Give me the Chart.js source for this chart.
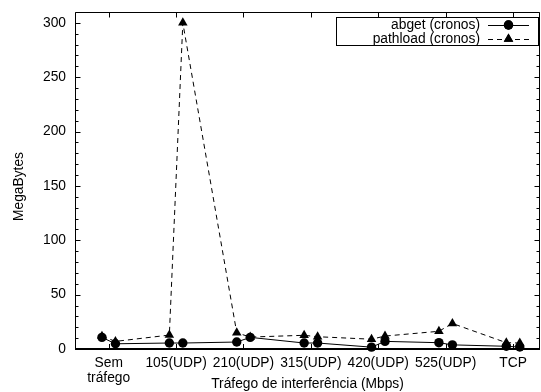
<!DOCTYPE html>
<html><head><meta charset="utf-8">
<script src="https://cdn.jsdelivr.net/npm/chart.js@4/dist/chart.umd.min.js"></script>
<style>html,body{margin:0;padding:0;background:#fff;}canvas{display:block;}</style>
</head><body>
<canvas id="c" width="541" height="392"></canvas>
<script>
// ---- data ----
const categories = [['Sem', 'tráfego'], '105(UDP)', '210(UDP)', '315(UDP)', '420(UDP)', '525(UDP)', 'TCP'];
const pairOffsets = [-0.1, 0.1];
const abget    = [10.7, 4.8, 5.5, 5.5, 6.4, 10.7, 5.5, 5.5, 1.7, 7.0, 5.8, 3.8, 2.5, 1.8];
const pathload = [11.8, 7.0, 12.8, 300, 14.9, 11.0, 12.6, 11.3, 9.0, 11.9, 16.3, 23.5, 5.8, 5.5];
const yTickLabels = [0, 50, 100, 150, 200, 250, 300];
const seriesLabels = ['abget (cronos)', 'pathload (cronos)'];
const xTitle = 'Tráfego de interferência (Mbps)';
const yTitle = 'MegaBytes';

const FONT = "'Liberation Sans', Arial, Helvetica, sans-serif";
const FS = 13.8;
const xs = categories.flatMap((c, i) => pairOffsets.map(o => i + o));
const toPts = arr => arr.map((v, k) => ({x: xs[k], y: v}));
const noPad = s => { s.paddingLeft = 0; s.paddingRight = 0; s.paddingTop = 0; s.paddingBottom = 0; };

const framePlugin = {
  id: 'frame',
  beforeDatasetsDraw(chart) {
    const {ctx, chartArea: a, scales: {x, y}} = chart;
    const L = Math.round(a.left) + 0.5, R = Math.round(a.right) - 0.5;
    const T = Math.round(a.top) + 0.5, B = Math.round(a.bottom);
    ctx.save();
    ctx.strokeStyle = '#000';
    ctx.lineWidth = 1;
    ctx.beginPath();
    ctx.moveTo(L, B); ctx.lineTo(L, T); ctx.lineTo(R, T); ctx.lineTo(R, B);
    ctx.stroke();
    ctx.lineWidth = 2;
    ctx.beginPath(); ctx.moveTo(L - 0.5, B); ctx.lineTo(R + 0.5, B); ctx.stroke();
    ctx.lineWidth = 1;
    ctx.beginPath();
    for (let v = 0; v <= y.max; v += 10) {
      const py = Math.round(y.getPixelForValue(v)) + 0.5;
      const len = v % 50 === 0 ? 5 : 3;
      ctx.moveTo(L, py); ctx.lineTo(L + len, py);
      ctx.moveTo(R, py); ctx.lineTo(R - len, py);
    }
    categories.forEach((c, i) => {
      const px = Math.round(x.getPixelForValue(i)) + 0.5;
      ctx.moveTo(px, B); ctx.lineTo(px, B - 5);
      ctx.moveTo(px, T); ctx.lineTo(px, T + 5);
    });
    ctx.stroke();
    // y title
    ctx.fillStyle = '#000';
    ctx.font = FS + 'px ' + FONT;
    ctx.textAlign = 'center';
    ctx.textBaseline = 'middle';
    ctx.translate(19, (a.top + a.bottom) / 2 + 6);
    ctx.rotate(-Math.PI / 2);
    ctx.fillText(yTitle, 0, 0);
    ctx.restore();
  },
  afterDraw(chart) {
    const {ctx, chartArea: a} = chart;
    const R = Math.round(a.right);
    const boxL = R - 203.5, boxT = Math.round(a.top) + 5.5, boxW = 202, boxH = 28;
    ctx.save();
    ctx.fillStyle = '#fff';
    ctx.fillRect(boxL, boxT, boxW, boxH);
    ctx.strokeStyle = '#000';
    ctx.lineWidth = 1;
    ctx.strokeRect(boxL, boxT, boxW, boxH);
    ctx.font = FS + 'px ' + FONT;
    ctx.textAlign = 'right';
    ctx.textBaseline = 'middle';
    ctx.fillStyle = '#000';
    const textR = R - 60, s0 = R - 52, s1 = R - 11, mx = (s0 + s1) / 2;
    chart.data.datasets.forEach((ds, i) => {
      const ry = boxT + 7.5 + i * 14;
      ctx.fillText(seriesLabels[i], textR, ry);
      ctx.setLineDash(ds.borderDash || []);
      ctx.lineWidth = 1;
      ctx.beginPath(); ctx.moveTo(s0, Math.round(ry) + 0.5); ctx.lineTo(s1, Math.round(ry) + 0.5); ctx.stroke();
      ctx.setLineDash([]);
      Chart.helpers.drawPoint(ctx, {pointStyle: ds.pointStyle, radius: ds.pointRadius, borderWidth: 0, rotation: 0}, mx, ry);
      ctx.fill();
    });
    ctx.restore();
  }
};

new Chart(document.getElementById('c'), {
  type: 'line',
  data: {
    datasets: [
      {
        label: seriesLabels[0], data: toPts(abget),
        borderColor: '#000', borderWidth: 1, backgroundColor: '#000',
        pointStyle: 'circle', pointRadius: 4.7, pointBackgroundColor: '#000',
        pointBorderColor: '#000', pointBorderWidth: 0, fill: false, tension: 0,
        clip: false, order: 1
      },
      {
        label: seriesLabels[1], data: toPts(pathload),
        borderColor: '#000', borderWidth: 1, borderDash: [5, 4], backgroundColor: '#000',
        pointStyle: 'triangle', pointRadius: 5.5, pointBackgroundColor: '#000',
        pointBorderColor: '#000', pointBorderWidth: 0, fill: false, tension: 0,
        clip: false, order: 0
      }
    ]
  },
  options: {
    responsive: false, animation: false, devicePixelRatio: 1,
    layout: {autoPadding: false, padding: {top: 12, right: 1, left: 0, bottom: 0}},
    plugins: {legend: {display: false}, tooltip: {enabled: false}},
    scales: {
      x: {
        type: 'linear', min: -0.5, max: 6.4,
        afterBuildTicks: s => { s.ticks = categories.map((c, i) => ({value: i})); },
        ticks: {
          callback: v => categories[v] ?? '',
          font: {family: FONT, size: FS, lineHeight: 15 / FS}, color: '#000',
          padding: 6.5, maxRotation: 0, minRotation: 0, autoSkip: false
        },
        grid: {display: false, drawTicks: false}, border: {display: false},
        title: {display: true, text: xTitle, color: '#000',
          font: {family: FONT, size: FS, lineHeight: 1.2}, padding: {top: 0, bottom: 0}},
        afterFit: s => { s.height = 43; noPad(s); }
      },
      y: {
        type: 'linear', min: 0, max: 310,
        afterBuildTicks: s => { s.ticks = yTickLabels.map(v => ({value: v})); },
        ticks: {font: {family: FONT, size: FS}, color: '#000', padding: 9},
        grid: {display: false, drawTicks: false}, border: {display: false},
        afterFit: s => { s.width = 75; noPad(s); }
      }
    }
  },
  plugins: [framePlugin]
});
</script>
</body></html>
